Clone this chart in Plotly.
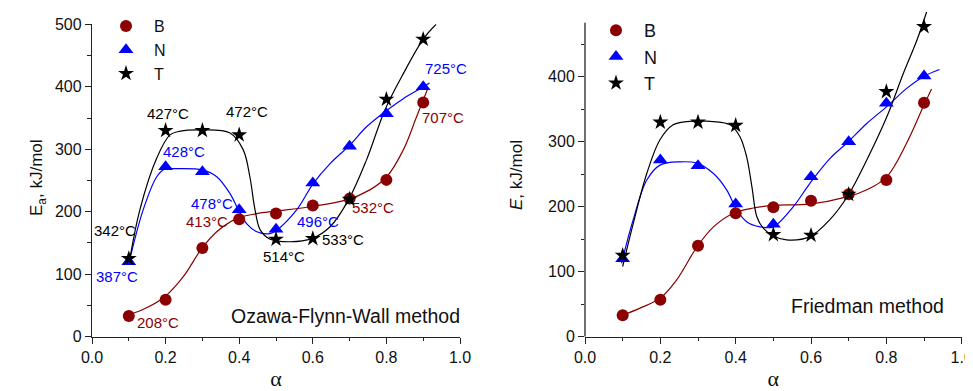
import plotly.graph_objects as go

# ---------------- data ----------------
alpha = [0.1, 0.2, 0.3, 0.4, 0.5, 0.6, 0.7, 0.8, 0.9]

# Ozawa-Flynn-Wall
ofw_B = [33, 59, 142, 188, 197, 210, 221, 251, 375]
ofw_N = [120, 272, 264, 203, 172, 246, 305, 357, 400]
ofw_T = [125, 330, 330, 323, 156, 157, 220, 380, 476]

# Friedman
fr_B = [33, 57, 140, 190, 199, 209, 219, 241, 360]
fr_N = [120, 272, 263, 204, 173, 246, 300, 359, 401]
fr_T = [125, 330, 330, 325, 157, 156, 219, 377, 477]

# fitted curves
ofw_B_fit_x = [0.10, 0.144, 0.198, 0.248, 0.298, 0.339, 0.393, 0.448, 0.50, 0.592, 0.692, 0.755, 0.801, 0.846, 0.882, 0.913]
ofw_B_fit_y = [35, 45, 64, 96, 141, 168, 189, 197, 201, 208, 219, 235, 256, 299, 352, 398]
ofw_N_fit_x = [0.10, 0.139, 0.176, 0.199, 0.223, 0.30, 0.339, 0.375, 0.398, 0.420, 0.448, 0.484, 0.501, 0.556, 0.601, 0.647, 0.701, 0.746, 0.796, 0.846, 0.901, 0.917]
ofw_N_fit_y = [117, 203, 256, 269, 269, 267, 256, 229, 203, 181, 168, 165, 170, 203, 245, 277, 307, 336, 360, 381, 400, 406]
ofw_T_fit_x = [0.10, 0.13, 0.176, 0.212, 0.24, 0.30, 0.375, 0.411, 0.429, 0.443, 0.457, 0.484, 0.538, 0.597, 0.647, 0.697, 0.746, 0.796, 0.846, 0.901, 0.935]
ofw_T_fit_y = [115, 203, 286, 323, 329, 331, 326, 299, 256, 203, 171, 156, 152, 157, 176, 219, 283, 363, 421, 477, 500]

fr_B_fit_x = [0.10, 0.146, 0.199, 0.243, 0.297, 0.341, 0.394, 0.447, 0.50, 0.597, 0.695, 0.748, 0.801, 0.854, 0.898, 0.920]
fr_B_fit_y = [33, 44, 59, 87, 138, 169, 190, 198, 202, 204, 215, 226, 246, 298, 354, 381]
fr_N_fit_x = [0.097, 0.128, 0.164, 0.199, 0.252, 0.297, 0.341, 0.376, 0.403, 0.429, 0.465, 0.50, 0.553, 0.597, 0.650, 0.699, 0.748, 0.801, 0.854, 0.898, 0.941]
fr_N_fit_y = [113, 180, 241, 264, 269, 267, 251, 226, 195, 177, 169, 169, 200, 236, 274, 300, 328, 354, 382, 400, 411]
fr_T_fit_x = [0.10, 0.128, 0.164, 0.199, 0.234, 0.27, 0.341, 0.385, 0.411, 0.429, 0.443, 0.456, 0.473, 0.50, 0.535, 0.597, 0.650, 0.699, 0.748, 0.801, 0.845, 0.881, 0.907]
fr_T_fit_y = [108, 174, 251, 303, 326, 331, 331, 326, 308, 277, 231, 185, 167, 155, 149, 154, 180, 218, 272, 338, 405, 456, 500]

series_names = ["B", "N", "T"]
x_ticks = [0.0, 0.2, 0.4, 0.6, 0.8, 1.0]
y_ticks_left = [0, 100, 200, 300, 400, 500]
y_ticks_right = [0, 100, 200, 300, 400]

# temperature labels on the OFW panel: (text, series, x, y)
temp_labels = [
    ("745°C", "T", 0.940, 504), ("725°C", "N", 0.961, 429), ("707°C", "B", 0.955, 351),
    ("427°C", "T", 0.206, 357), ("472°C", "T", 0.422, 361), ("428°C", "N", 0.250, 296),
    ("478°C", "N", 0.327, 213), ("413°C", "B", 0.312, 185), ("342°C", "T", 0.0625, 170),
    ("387°C", "N", 0.067, 97), ("208°C", "B", 0.178, 22), ("496°C", "N", 0.615, 184),
    ("514°C", "T", 0.523, 128), ("533°C", "T", 0.681, 155), ("532°C", "B", 0.763, 207),
]

# ---------------- style ----------------
colors = {"B": "#8B0000", "N": "#0000FF", "T": "#000000"}
symbols = {"B": "circle", "N": "triangle-up", "T": "star"}
msize = {"B": 12, "N": 13, "T": 12}
FONT = "Liberation Sans, Arial, sans-serif"

# the page body has an 8 px margin; the figure is sized to end at the window edge
OFF = 8
W, H = 973 - OFF, 391 - OFF
def px_x(p): return (p - OFF) / W
def px_y(p): return (H - (p - OFF)) / H

fig = go.Figure()

panels = [
    ("x", "y", "legend", {"B": ofw_B, "N": ofw_N, "T": ofw_T},
     {"B": (ofw_B_fit_x, ofw_B_fit_y), "N": (ofw_N_fit_x, ofw_N_fit_y), "T": (ofw_T_fit_x, ofw_T_fit_y)}),
    ("x2", "y2", "legend2", {"B": fr_B, "N": fr_N, "T": fr_T},
     {"B": (fr_B_fit_x, fr_B_fit_y), "N": (fr_N_fit_x, fr_N_fit_y), "T": (fr_T_fit_x, fr_T_fit_y)}),
]

for xa, ya, leg, pts, fits in panels:
    for s in series_names:
        fx, fy = fits[s]
        fig.add_trace(go.Scatter(x=fx, y=fy, mode="lines", xaxis=xa, yaxis=ya,
                                 line=dict(color=colors[s], width=1.2, shape="spline", smoothing=1.0),
                                 showlegend=False, hoverinfo="skip", cliponaxis=False))
    for s in series_names:
        fig.add_trace(go.Scatter(x=alpha, y=pts[s], mode="markers", name=s, xaxis=xa, yaxis=ya,
                                 marker=dict(color=colors[s], symbol=symbols[s], size=msize[s],
                                             line=dict(width=0)),
                                 legend=leg, cliponaxis=False))

axis_common = dict(showline=True, linecolor="#222", linewidth=1.3, ticks="outside",
                   ticklen=6, tickwidth=1.2, tickcolor="#222", showgrid=False, zeroline=False,
                   automargin=False,
                   tickfont=dict(family=FONT, size=16, color="#111"))
minor_common = dict(ticklen=3.5, ticks="outside", tickcolor="#222", tickwidth=1.2)
xtitle = dict(text="α", standoff=10, font=dict(family="Liberation Serif, serif", size=22, color="#111"))

fig.update_layout(
    width=W, height=H, margin=dict(l=0, r=0, t=0, b=0, pad=0, autoexpand=False),
    paper_bgcolor="white", plot_bgcolor="white",
    xaxis=dict(domain=[px_x(92), px_x(460)], range=[0, 1], anchor="y",
               tickvals=x_ticks, tickformat=".1f", title=xtitle,
               minor=dict(dtick=0.1, **minor_common), **axis_common),
    yaxis=dict(domain=[px_y(336.7), px_y(24.3)], range=[0, 500], anchor="x",
               tickvals=y_ticks_left,
               minor=dict(dtick=50, **minor_common), **axis_common),
    xaxis2=dict(domain=[px_x(585), px_x(961.7)], range=[0, 1], anchor="y2",
                tickvals=x_ticks, tickformat=".1f", title=xtitle,
                minor=dict(dtick=0.1, **minor_common), **axis_common),
    yaxis2=dict(domain=[px_y(336.7), px_y(11.7)], range=[0, 500], anchor="x2",
                tickvals=y_ticks_right,
                minor=dict(tickvals=[50, 150, 250, 350, 450], **minor_common),
                **{**axis_common, "showline": False}),
    legend=dict(x=px_x(98), y=px_y(9), xanchor="left", yanchor="top",
                font=dict(family=FONT, size=16, color="#111"), itemwidth=46,
                bgcolor="rgba(0,0,0,0)", tracegroupgap=0),
    legend2=dict(x=px_x(588), y=px_y(12), xanchor="left", yanchor="top",
                 font=dict(family=FONT, size=18, color="#111"), itemwidth=46,
                 bgcolor="rgba(0,0,0,0)", tracegroupgap=0),
    showlegend=True,
)

# right y axis line stops below the top of the plot area
fig.add_shape(type="line", xref="paper", x0=px_x(585), x1=px_x(585), yref="y2", y0=0, y1=483,
              line=dict(color="#222", width=1.3))

ann = []
for text, s, x, y in temp_labels:
    ann.append(dict(text=text, x=x, y=y, xref="x", yref="y", showarrow=False,
                    font=dict(family=FONT, size=15, color=colors[s])))
ann.append(dict(text="Ozawa-Flynn-Wall method", x=0.689, y=33, xref="x", yref="y", showarrow=False,
                font=dict(family=FONT, size=19.5, color="#111")))
ann.append(dict(text="Friedman method", x=0.751, y=48, xref="x2", yref="y2", showarrow=False,
                font=dict(family=FONT, size=19.5, color="#111")))
ann.append(dict(text="E<sub>a</sub>, kJ/mol", x=px_x(25), y=px_y(178), xref="paper", yref="paper",
                showarrow=False, textangle=-90,
                font=dict(family=FONT, size=17, color="#111")))
ann.append(dict(text="<i>E</i>, kJ/mol", x=px_x(517), y=px_y(175), xref="paper", yref="paper",
                showarrow=False, textangle=-90,
                font=dict(family=FONT, size=17, color="#111")))
fig.update_layout(annotations=ann)

fig.write_html("out.html")
